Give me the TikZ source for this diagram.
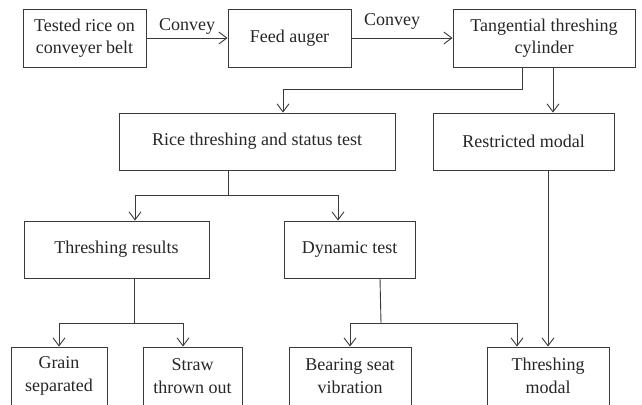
\documentclass[tikz,border=0pt]{standalone}
\usepackage{fontspec}
\setmainfont{Liberation Serif}
\usetikzlibrary{arrows.meta}
\definecolor{linec}{HTML}{3A3A3A}
\definecolor{textc}{HTML}{262626}
\begin{document}
\begin{tikzpicture}[x=1pt,y=-1pt,
  box/.style={draw=linec, line width=0.9pt, minimum height=58pt, inner sep=0pt,
    align=center, font=\fontsize{18}{22.6}\selectfont, text=textc},
  wire/.style={draw=linec, line width=0.9pt},
  conn/.style={wire, -{Straight Barb[length=8pt,width=12pt,line width=0.9pt]}},
  lbl/.style={font=\fontsize{18}{22}\selectfont, text=textc, inner sep=0pt}]
\useasboundingbox (0,0) rectangle (642,404);
\clip (0,0) rectangle (642,404);
% row 1
\node[box, minimum width=123pt] (b1) at (84.5,38) {Tested rice on\\conveyer belt};
\node[box, minimum width=123pt] (b2) at (289.5,38) {Feed auger};
\node[box, minimum width=182pt] (b3) at (544,38) {Tangential threshing\\cylinder};
% row 2
\node[box, minimum width=276pt, minimum height=57pt] (rice) at (257,141.5) {Rice threshing and status test};
\node[box, minimum width=181pt, minimum height=57pt] (restr) at (523.5,141.5) {Restricted modal};
% row 3
\node[box, minimum width=185pt, minimum height=57pt] (thres) at (116.5,249.5) {Threshing results};
\node[box, minimum width=131pt, minimum height=57pt] (dyn) at (349.5,249.5) {Dynamic test};
% row 4
\node[box, minimum width=96pt] (grain) at (59,376) {Grain\\separated};
\node[box, minimum width=99pt] (straw) at (192.5,376) {Straw\\thrown out};
\node[box, minimum width=122pt] (bear) at (350,376) {Bearing seat\\vibration};
\node[box, minimum width=122pt] (tmod) at (548,376) {Threshing\\modal};
% junctions
\coordinate (j1) at (283,89);
\coordinate (j2) at (228,195);
\coordinate (j3) at (134,323);
\coordinate (j4) at (381,323);
% connectors
\draw[conn] (b1) -- node[lbl, above=3pt] {Convey} (b2);
\draw[conn] (b2) -- node[lbl, above=8pt, xshift=-10pt] {Convey} (b3);
\draw[conn] ([xshift=-22pt]b3.south) |- (j1) -- (j1 |- rice.north);
\draw[conn] ([xshift=9pt]b3.south) -- ([xshift=9pt]b3.south |- restr.north);
\draw[wire] ([xshift=-29pt]rice.south) -- (j2);
\draw[conn] (j2) -| ([xshift=18.5pt]thres.north);
\draw[conn] (j2) -| ([xshift=-11.5pt]dyn.north);
\draw[wire] ([xshift=17.5pt]thres.south) -- (j3);
\draw[conn] (j3) -| (grain.north);
\draw[conn] (j3) -| ([xshift=-9.5pt]straw.north);
\draw[wire] ([xshift=30.5pt]dyn.south) -- (j4);
\draw[conn] (j4) -| (bear.north);
\draw[conn] (j4) -| ([xshift=-31pt]tmod.north);
\draw[conn] ([xshift=24.5pt]restr.south) -- (tmod.north);
\end{tikzpicture}
\end{document}
